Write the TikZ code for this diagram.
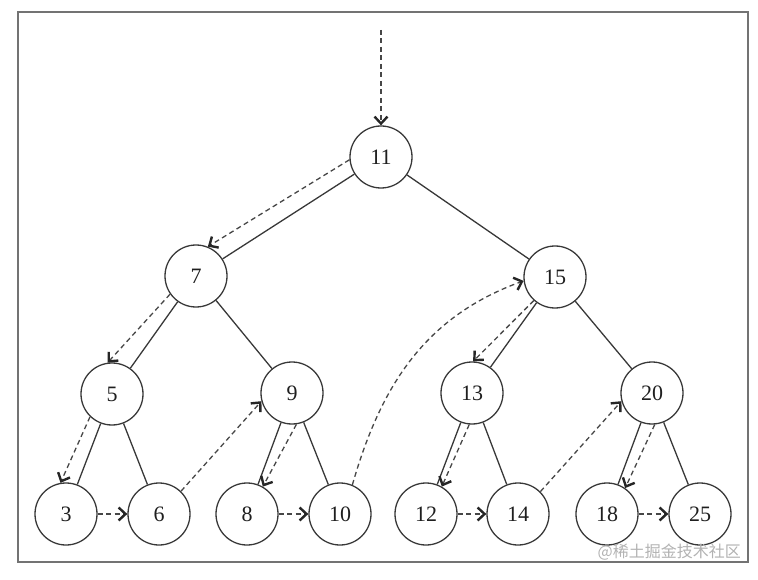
\documentclass[tikz,border=0pt]{standalone}
\usepackage{fontspec}
\setmainfont{Liberation Serif}
\newfontfamily\cjk{Noto Sans CJK SC}
\usetikzlibrary{arrows.meta}
\begin{document}
\begin{tikzpicture}[x=1pt,y=-1pt,
  nd/.style={circle, draw=black!78, line width=1.3pt, minimum size=62pt, inner sep=0pt,
             font=\fontsize{22}{22}\selectfont, text=black!88},
  edge/.style={draw=black!78, line width=1.3pt},
  walk/.style={draw=black!72, line width=1.3pt, dash pattern=on 5pt off 3.5pt,
               -{Straight Barb[length=7pt,width=13pt,line width=2.4pt,color=black!85]}},
  frame/.style={draw=black!55, line width=2pt},
  wmark/.style={text=black!30, font=\cjk\fontsize{16}{16}\selectfont, anchor=east, inner sep=0pt}
]
\useasboundingbox (0,0) rectangle (758,580);
\draw[frame] (18,12) rectangle (748,562);

% nodes
\node[nd] (n11) at (381,157) {11};
\node[nd] (n7)  at (196,276) {7};
\node[nd] (n15) at (555,277) {15};
\node[nd] (n5)  at (112,394) {5};
\node[nd] (n9)  at (292,393) {9};
\node[nd] (n13) at (472,393) {13};
\node[nd] (n20) at (652,393) {20};
\node[nd] (n3)  at (66,514) {3};
\node[nd] (n6)  at (159,514) {6};
\node[nd] (n8)  at (247,514) {8};
\node[nd] (n10) at (340,514) {10};
\node[nd] (n12) at (426,514) {12};
\node[nd] (n14) at (518,514) {14};
\node[nd] (n18) at (607,514) {18};
\node[nd] (n25) at (700,514) {25};

% tree edges
\draw[edge] (n11) -- (n7);
\draw[edge] (n11) -- (n15);
\draw[edge] (n7) -- (n5);
\draw[edge] (n7) -- (n9);
\draw[edge] (n5) -- (n3);
\draw[edge] (n5) -- (n6);
\draw[edge] (n9) -- (n8);
\draw[edge] (n9) -- (n10);
\draw[edge] (n15) -- (n13);
\draw[edge] (n15) -- (n20);
\draw[edge] (n13) -- (n12);
\draw[edge] (n13) -- (n14);
\draw[edge] (n20) -- (n18);
\draw[edge] (n20) -- (n25);

% traversal
\coordinate (start) at (381,30);
\draw[walk] (start) -- (n11.north);
\draw[walk] (n11.185) -- (n7.68);
\draw[walk] (n7.215) -- (n5.98);
\draw[walk] (n5.226) -- (n3.100);
\draw[walk] (n3.east) -- (n6.west);
\draw[walk] (n6.46) -- (n9.195);
\draw[walk] (n9.278) -- (n8.60);
\draw[walk] (n8.east) -- (n10.west);
\draw[walk] (n10.67) to[out=74,in=200] (n15.187);
\draw[walk] (n15.228) -- (n13.88);
\draw[walk] (n13.265) -- (n12.60);
\draw[walk] (n12.east) -- (n14.west);
\draw[walk] (n14.45) -- (n20.195);
\draw[walk] (n20.275) -- (n18.55);
\draw[walk] (n18.east) -- (n25.west);

\node[wmark] (wm) at (741,552) {@稀土掘金技术社区};
\end{tikzpicture}
\end{document}
